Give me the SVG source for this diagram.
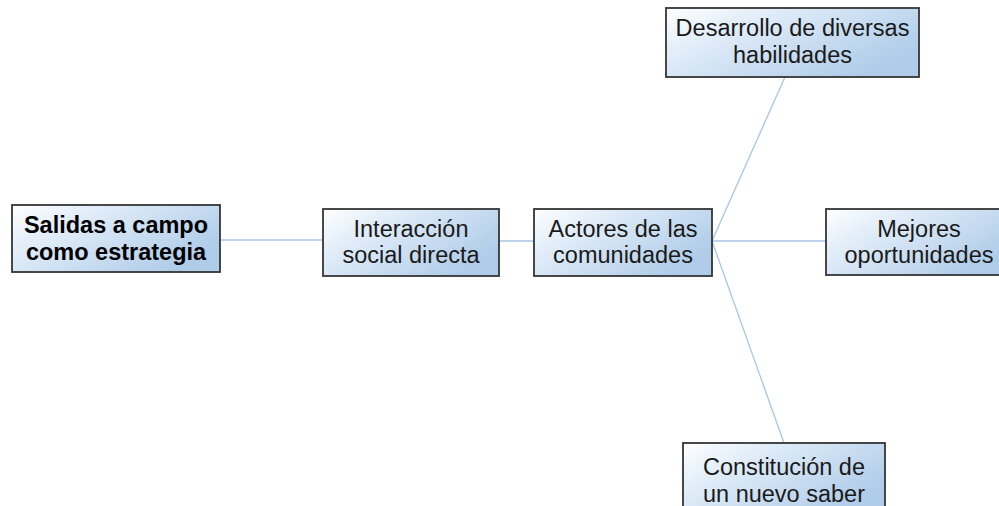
<svg xmlns="http://www.w3.org/2000/svg" width="999" height="506" viewBox="0 0 999 506">
<defs>
<linearGradient id="g" x1="0" y1="0" x2="1" y2="0.6">
<stop offset="0" stop-color="#ffffff"/>
<stop offset="0.3" stop-color="#e3eef9"/>
<stop offset="1" stop-color="#afcce9"/>
</linearGradient>
<style>
.box{fill:url(#g);stroke:#353535;stroke-width:1.8}
.t{font-family:"Liberation Sans",Arial,sans-serif;font-size:23.5px;fill:#1a1a1a;text-anchor:middle}
.b{font-weight:bold;fill:#000}
.c{stroke:#a9c6e4;stroke-width:1.3;fill:none}
</style>
</defs>
<rect width="999" height="506" fill="#ffffff"/>
<g id="connectors">
<line class="c" x1="220" y1="240" x2="323" y2="240"/>
<line class="c" x1="499" y1="241" x2="534" y2="241"/>
<line class="c" x1="712" y1="241" x2="826" y2="241"/>
<line class="c" x1="712" y1="241" x2="785" y2="77"/>
<line class="c" x1="712" y1="241" x2="784" y2="443"/>
</g>
<g id="n1"><rect class="box" x="12" y="205" width="208" height="67"/>
<text class="t b" x="116" y="233">Salidas a campo</text><text class="t b" x="116" y="260">como estrategia</text></g>
<g id="n2"><rect class="box" x="323" y="209" width="176" height="67"/>
<text class="t" x="411" y="237">Interacción</text><text class="t" x="411" y="263">social directa</text></g>
<g id="n3"><rect class="box" x="534" y="209" width="178" height="67"/>
<text class="t" x="623" y="237">Actores de las</text><text class="t" x="623" y="263">comunidades</text></g>
<g id="n4"><rect class="box" x="666" y="8" width="253" height="69"/>
<text class="t" x="792.5" y="36">Desarrollo de diversas</text><text class="t" x="792.5" y="63">habilidades</text></g>
<g id="n5"><rect class="box" x="826" y="209" width="186" height="66"/>
<text class="t" x="919" y="237">Mejores</text><text class="t" x="919" y="263">oportunidades</text></g>
<g id="n6"><rect class="box" x="683" y="443" width="202" height="70"/>
<text class="t" x="784" y="475">Constitución de</text><text class="t" x="784" y="502">un nuevo saber</text></g>
</svg>
